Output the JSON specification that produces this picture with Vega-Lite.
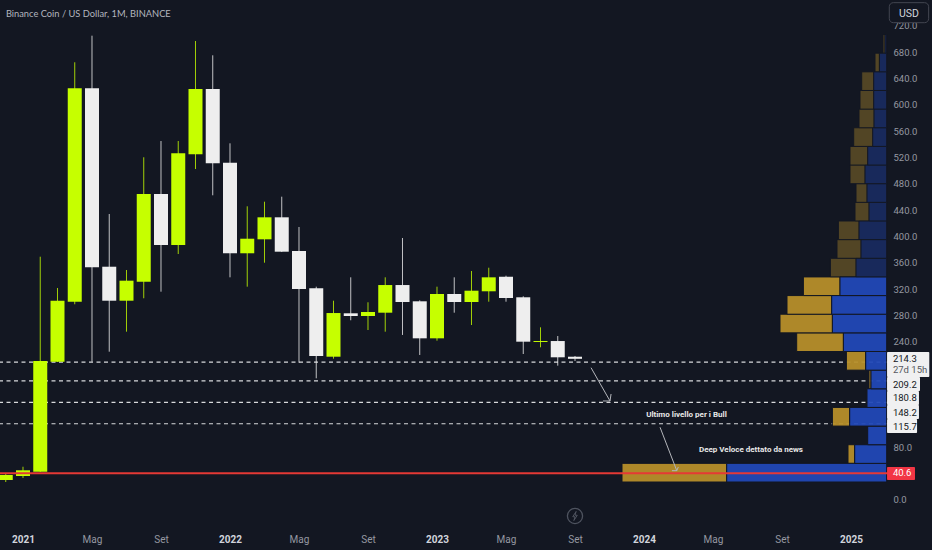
{
  "$schema": "https://vega.github.io/schema/vega-lite/v6.json",
  "width": 888,
  "height": 530,
  "padding": {"left": 0, "top": 0, "right": 44, "bottom": 20},
  "autosize": "none",
  "background": "#131722",
  "datasets": {
    "candles": [
      {"m": -1, "open": 30.4, "high": 39.5, "low": 27.3, "close": 37.9, "dir": "up"},
      {"m": 0, "open": 36.4, "high": 50.5, "low": 33.4, "close": 45.1, "dir": "up"},
      {"m": 1, "open": 43.0, "high": 369.3, "low": 42.5, "close": 211.0, "dir": "up"},
      {"m": 2, "open": 209.9, "high": 321.8, "low": 209.5, "close": 302.5, "dir": "up"},
      {"m": 3, "open": 301.0, "high": 664.4, "low": 297.1, "close": 624.9, "dir": "up"},
      {"m": 4, "open": 624.9, "high": 704.8, "low": 209.9, "close": 353.2, "dir": "down"},
      {"m": 5, "open": 354.1, "high": 434.1, "low": 225.1, "close": 302.5, "dir": "down"},
      {"m": 6, "open": 302.5, "high": 349.1, "low": 255.5, "close": 332.9, "dir": "up"},
      {"m": 7, "open": 331.4, "high": 520.2, "low": 306.2, "close": 464.5, "dir": "up"},
      {"m": 8, "open": 464.5, "high": 544.9, "low": 316.2, "close": 387.1, "dir": "down"},
      {"m": 9, "open": 387.1, "high": 544.9, "low": 373.4, "close": 526.3, "dir": "up"},
      {"m": 10, "open": 524.7, "high": 696.7, "low": 502.4, "close": 623.9, "dir": "up"},
      {"m": 11, "open": 623.9, "high": 675.0, "low": 462.5, "close": 511.1, "dir": "down"},
      {"m": 12, "open": 512.0, "high": 541.4, "low": 338.0, "close": 374.5, "dir": "down"},
      {"m": 13, "open": 374.5, "high": 445.8, "low": 323.8, "close": 396.6, "dir": "up"},
      {"m": 14, "open": 395.7, "high": 452.8, "low": 360.2, "close": 429.1, "dir": "up"},
      {"m": 15, "open": 429.1, "high": 460.4, "low": 376.4, "close": 376.9, "dir": "down"},
      {"m": 16, "open": 378.0, "high": 414.4, "low": 208.4, "close": 320.3, "dir": "down"},
      {"m": 17, "open": 321.3, "high": 323.8, "low": 184.7, "close": 218.6, "dir": "down"},
      {"m": 18, "open": 217.5, "high": 302.5, "low": 214.5, "close": 283.8, "dir": "up"},
      {"m": 19, "open": 283.4, "high": 338.0, "low": 272.8, "close": 279.3, "dir": "down"},
      {"m": 20, "open": 279.3, "high": 300.1, "low": 258.0, "close": 285.4, "dir": "up"},
      {"m": 21, "open": 284.3, "high": 338.0, "low": 255.5, "close": 326.3, "dir": "up"},
      {"m": 22, "open": 326.3, "high": 397.7, "low": 250.5, "close": 300.5, "dir": "down"},
      {"m": 23, "open": 301.6, "high": 303.1, "low": 220.1, "close": 245.4, "dir": "down"},
      {"m": 24, "open": 245.4, "high": 323.8, "low": 241.8, "close": 312.7, "dir": "up"},
      {"m": 25, "open": 312.7, "high": 338.0, "low": 284.3, "close": 300.5, "dir": "down"},
      {"m": 26, "open": 300.5, "high": 347.6, "low": 265.6, "close": 317.7, "dir": "up"},
      {"m": 27, "open": 316.8, "high": 352.6, "low": 301.0, "close": 338.0, "dir": "up"},
      {"m": 28, "open": 339.0, "high": 340.5, "low": 301.0, "close": 306.6, "dir": "down"},
      {"m": 29, "open": 307.7, "high": 309.2, "low": 221.6, "close": 240.3, "dir": "down"},
      {"m": 30, "open": 239.8, "high": 262.1, "low": 231.8, "close": 241.3, "dir": "up"},
      {"m": 31, "open": 241.3, "high": 248.9, "low": 203.9, "close": 216.6, "dir": "down"},
      {"m": 32, "open": 217.5, "high": 218.6, "low": 211.0, "close": 214.3, "dir": "down"}
    ],
    "profile": [
      {"lo": 27.3, "hi": 55.6, "total": 264.7, "buy": 160, "zone": "lit"},
      {"lo": 55.6, "hi": 83.9, "total": 38.7, "buy": 32, "zone": "lit"},
      {"lo": 83.9, "hi": 112.2, "total": 19, "buy": 19, "zone": "lit"},
      {"lo": 112.2, "hi": 140.5, "total": 54.3, "buy": 37, "zone": "lit"},
      {"lo": 140.5, "hi": 168.8, "total": 20.3, "buy": 19.7, "zone": "lit"},
      {"lo": 168.8, "hi": 197.1, "total": 17.7, "buy": 15.7, "zone": "lit"},
      {"lo": 197.1, "hi": 225.4, "total": 40.3, "buy": 21, "zone": "lit"},
      {"lo": 225.4, "hi": 253.7, "total": 90, "buy": 43.3, "zone": "lit"},
      {"lo": 253.7, "hi": 282, "total": 106.7, "buy": 54.3, "zone": "lit"},
      {"lo": 282, "hi": 310.3, "total": 99.7, "buy": 55, "zone": "lit"},
      {"lo": 310.3, "hi": 338.6, "total": 83.3, "buy": 46.7, "zone": "lit"},
      {"lo": 338.6, "hi": 366.9, "total": 56.3, "buy": 30.7, "zone": "dim"},
      {"lo": 366.9, "hi": 395.2, "total": 49.7, "buy": 25.7, "zone": "dim"},
      {"lo": 395.2, "hi": 423.5, "total": 48.3, "buy": 27.7, "zone": "dim"},
      {"lo": 423.5, "hi": 451.8, "total": 31.7, "buy": 17.7, "zone": "dim"},
      {"lo": 451.8, "hi": 480.1, "total": 30.7, "buy": 19.7, "zone": "dim"},
      {"lo": 480.1, "hi": 508.4, "total": 36.7, "buy": 21.7, "zone": "dim"},
      {"lo": 508.4, "hi": 536.7, "total": 36.7, "buy": 19, "zone": "dim"},
      {"lo": 536.7, "hi": 565, "total": 33, "buy": 14, "zone": "dim"},
      {"lo": 565, "hi": 593.3, "total": 27.7, "buy": 12.7, "zone": "dim"},
      {"lo": 593.3, "hi": 621.6, "total": 26.7, "buy": 13, "zone": "dim"},
      {"lo": 621.6, "hi": 649.9, "total": 25, "buy": 13, "zone": "dim"},
      {"lo": 649.9, "hi": 678.2, "total": 11.7, "buy": 7.3, "zone": "dim"},
      {"lo": 678.2, "hi": 706.5, "total": 3.7, "buy": 1.7, "zone": "dim"}
    ],
    "arrows": [
      {"stroke": "a1", "seq": 1, "m": 32.93, "price": 200.8},
      {"stroke": "a1", "seq": 2, "m": 34.03, "price": 150.3},
      {"stroke": "a1h", "seq": 1, "m": 33.62, "price": 150.3},
      {"stroke": "a1h", "seq": 2, "m": 34.03, "price": 150.3},
      {"stroke": "a1h", "seq": 3, "m": 34.09, "price": 160.9},
      {"stroke": "a2", "seq": 1, "m": 36.93, "price": 110.4},
      {"stroke": "a2", "seq": 2, "m": 37.9, "price": 44.5},
      {"stroke": "a2h", "seq": 1, "m": 37.62, "price": 44.5},
      {"stroke": "a2h", "seq": 2, "m": 37.9, "price": 44.5},
      {"stroke": "a2h", "seq": 3, "m": 37.99, "price": 50.1}
    ]
  },
  "resolve": {"scale": {"x": "independent"}},
  "encoding": {
    "y": {
      "type": "quantitative",
      "scale": {"domain": [-45.54, 758.95], "nice": false, "zero": false},
      "axis": {
        "orient": "right",
        "title": null,
        "grid": false,
        "domain": false,
        "ticks": false,
        "values": [0, 80, 240, 280, 320, 360, 400, 440, 480, 520, 560, 600, 640, 680, 720],
        "format": ".1f",
        "labelColor": "#9598a1",
        "labelFont": "Roboto",
        "labelFontSize": 9.5,
        "labelPadding": 5
      }
    }
  },
  "layer": [
    {
      "layer": [
        {
          "data": {"values": [{"level": 209.2}, {"level": 180.8}, {"level": 148.2}, {"level": 115.7}]},
          "mark": {"type": "rule", "stroke": "#d8d9dc", "strokeWidth": 1.2, "strokeDash": [4, 3.5]},
          "encoding": {"y": {"field": "level", "type": "quantitative"}}
        },
        {
          "data": {"name": "candles"},
          "mark": {"type": "rule", "strokeWidth": 1, "opacity": 0.8},
          "encoding": {
            "x": {
              "field": "m",
              "type": "quantitative",
              "scale": {"domain": [-1.3333, 50.1449], "nice": false, "zero": false, "padding": 0},
              "axis": {
                "title": null,
                "grid": false,
                "domain": false,
                "ticks": false,
                "values": [0, 4, 8, 12, 16, 20, 24, 28, 32, 36, 40, 44, 48],
                "labelExpr": "datum.value % 12 === 0 ? 2021 + datum.value / 12 : (datum.value % 12 === 4 ? 'Mag' : 'Set')",
                "labelFont": "Roboto",
                "labelFontSize": 10,
                "labelPadding": 4,
                "labelFontWeight": {"condition": {"test": "datum.value % 12 === 0", "value": "bold"}, "value": "normal"},
                "labelColor": {"condition": {"test": "datum.value % 12 === 0", "value": "#d1d4dc"}, "value": "#9598a1"}
              }
            },
            "y": {"field": "low", "type": "quantitative"},
            "y2": {"field": "high"},
            "color": {
              "field": "dir",
              "type": "nominal",
              "scale": {"domain": ["up", "down"], "range": ["#c6ff00", "#eeeeee"]},
              "legend": null
            }
          }
        },
        {
          "data": {"name": "candles"},
          "mark": {"type": "bar", "size": 14, "orient": "vertical"},
          "encoding": {
            "x": {"field": "m", "type": "quantitative"},
            "y": {"field": "open", "type": "quantitative"},
            "y2": {"field": "close"},
            "color": {"field": "dir", "type": "nominal", "legend": null}
          }
        }
      ]
    },
    {
      "data": {"name": "profile"},
      "layer": [
        {
          "mark": {"type": "rect", "fill": "#b8902a", "stroke": "#131722", "strokeWidth": 1},
          "encoding": {
            "x": {
              "field": "total",
              "type": "quantitative",
              "scale": {"domain": [886.7, -1.3], "nice": false, "zero": false},
              "axis": null
            },
            "x2": {"field": "buy"},
            "y": {"field": "lo", "type": "quantitative"},
            "y2": {"field": "hi"},
            "opacity": {
              "field": "zone",
              "type": "nominal",
              "scale": {"domain": ["dim", "lit"], "range": [0.38, 0.94]},
              "legend": null
            }
          }
        },
        {
          "mark": {"type": "rect", "fill": "#2148b8", "stroke": "#131722", "strokeWidth": 1},
          "encoding": {
            "x": {"field": "buy", "type": "quantitative"},
            "x2": {"datum": 0},
            "y": {"field": "lo", "type": "quantitative"},
            "y2": {"field": "hi"},
            "opacity": {"field": "zone", "type": "nominal", "legend": null}
          }
        }
      ]
    },
    {
      "layer": [
        {
          "data": {"values": [{"level": 40.6}]},
          "mark": {"type": "rule", "stroke": "#e53935", "strokeWidth": 2},
          "encoding": {"y": {"field": "level", "type": "quantitative"}}
        },
        {
          "data": {"name": "arrows"},
          "mark": {"type": "line", "stroke": "#b4b6bb", "strokeWidth": 1, "interpolate": "linear"},
          "encoding": {
            "x": {
              "field": "m",
              "type": "quantitative",
              "scale": {"domain": [-1.3333, 50.1449], "nice": false, "zero": false},
              "axis": null
            },
            "y": {"field": "price", "type": "quantitative"},
            "detail": {"field": "stroke"},
            "order": {"field": "seq"}
          }
        },
        {
          "data": {"values": [
            {"label": "Ultimo livello per i Bull", "m": 38.46, "price": 129},
            {"label": "Deep Veloce dettato da news", "m": 42.2, "price": 76.4}
          ]},
          "mark": {"type": "text", "font": "Roboto", "fontSize": 8, "fontWeight": "bold", "color": "#e8e8e8", "align": "center", "baseline": "middle"},
          "encoding": {
            "x": {"field": "m", "type": "quantitative"},
            "y": {"field": "price", "type": "quantitative"},
            "text": {"field": "label"}
          }
        },
        {
          "data": {"values": [{"label": "Binance Coin / US Dollar, 1M, BINANCE", "m": -0.99, "price": 737.7}]},
          "mark": {"type": "text", "font": "Lato", "fontSize": 9.3, "color": "#b2b5be", "align": "left", "baseline": "middle"},
          "encoding": {
            "x": {"field": "m", "type": "quantitative"},
            "y": {"field": "price", "type": "quantitative"},
            "text": {"field": "label"}
          }
        },
        {
          "data": {"values": [{"m": 32, "price": -24.3}]},
          "mark": {"type": "point", "shape": "circle", "size": 230, "filled": false, "stroke": "#686d79", "strokeWidth": 1.3},
          "encoding": {
            "x": {"field": "m", "type": "quantitative"},
            "y": {"field": "price", "type": "quantitative"}
          }
        },
        {
          "data": {"values": [{"m": 32, "price": -24.3}]},
          "mark": {"type": "point", "shape": "M0.15,-0.6 L-0.3,0.1 L0,0.1 L-0.15,0.6 L0.3,-0.1 L0,-0.1 Z", "size": 230, "filled": false, "stroke": "#686d79", "strokeWidth": 1},
          "encoding": {
            "x": {"field": "m", "type": "quantitative"},
            "y": {"field": "price", "type": "quantitative"}
          }
        },
        {
          "data": {"values": [{"from": 50.22, "to": 52.5, "bottom": 724.5, "top": 754.9}]},
          "mark": {"type": "rect", "fill": "#131722", "stroke": "#434651", "strokeWidth": 1, "cornerRadius": 4},
          "encoding": {
            "x": {"field": "from", "type": "quantitative"},
            "x2": {"field": "to"},
            "y": {"field": "bottom", "type": "quantitative"},
            "y2": {"field": "top"}
          }
        },
        {
          "data": {"values": [{"label": "USD", "m": 51.36, "price": 738}]},
          "mark": {"type": "text", "font": "Roboto", "fontSize": 10.5, "color": "#d1d4dc", "align": "center", "baseline": "middle"},
          "encoding": {
            "x": {"field": "m", "type": "quantitative"},
            "y": {"field": "price", "type": "quantitative"},
            "text": {"field": "label"}
          }
        },
        {
          "data": {"values": [
            {"from": 50.09, "to": 52.54, "bottom": 186.7, "top": 224.7},
            {"from": 50.09, "to": 52, "bottom": 165.5, "top": 186.7},
            {"from": 50.09, "to": 51.94, "bottom": 144.2, "top": 165.5},
            {"from": 50.09, "to": 51.94, "bottom": 123, "top": 144.2},
            {"from": 50.09, "to": 51.83, "bottom": 101.7, "top": 123}
          ]},
          "mark": {"type": "rect", "fill": "#f0f0f1", "cornerRadius": 1},
          "encoding": {
            "x": {"field": "from", "type": "quantitative"},
            "x2": {"field": "to"},
            "y": {"field": "bottom", "type": "quantitative"},
            "y2": {"field": "top"}
          }
        },
        {
          "data": {"values": [{"from": 50.09, "to": 51.71, "bottom": 30.4, "top": 50.1}]},
          "mark": {"type": "rect", "fill": "#f23645", "cornerRadius": 1},
          "encoding": {
            "x": {"field": "from", "type": "quantitative"},
            "x2": {"field": "to"},
            "y": {"field": "bottom", "type": "quantitative"},
            "y2": {"field": "top"}
          }
        },
        {
          "data": {"values": [
            {"label": "214.3", "price": 214},
            {"label": "209.2", "price": 174.6},
            {"label": "180.8", "price": 154.8},
            {"label": "148.2", "price": 132.5},
            {"label": "115.7", "price": 111.3}
          ]},
          "mark": {"type": "text", "font": "Roboto", "fontSize": 9.5, "color": "#131722", "align": "left", "baseline": "middle"},
          "encoding": {
            "x": {"datum": 50.43, "type": "quantitative"},
            "y": {"field": "price", "type": "quantitative"},
            "text": {"field": "label"}
          }
        },
        {
          "data": {"values": [{"label": "27d 15h", "price": 197.3}]},
          "mark": {"type": "text", "font": "Roboto", "fontSize": 9.5, "color": "#555860", "align": "left", "baseline": "middle"},
          "encoding": {
            "x": {"datum": 50.43, "type": "quantitative"},
            "y": {"field": "price", "type": "quantitative"},
            "text": {"field": "label"}
          }
        },
        {
          "data": {"values": [{"label": "40.6", "price": 41}]},
          "mark": {"type": "text", "font": "Roboto", "fontSize": 9.5, "color": "#ffffff", "align": "left", "baseline": "middle"},
          "encoding": {
            "x": {"datum": 50.43, "type": "quantitative"},
            "y": {"field": "price", "type": "quantitative"},
            "text": {"field": "label"}
          }
        }
      ]
    }
  ],
  "config": {"view": {"stroke": null}}
}
